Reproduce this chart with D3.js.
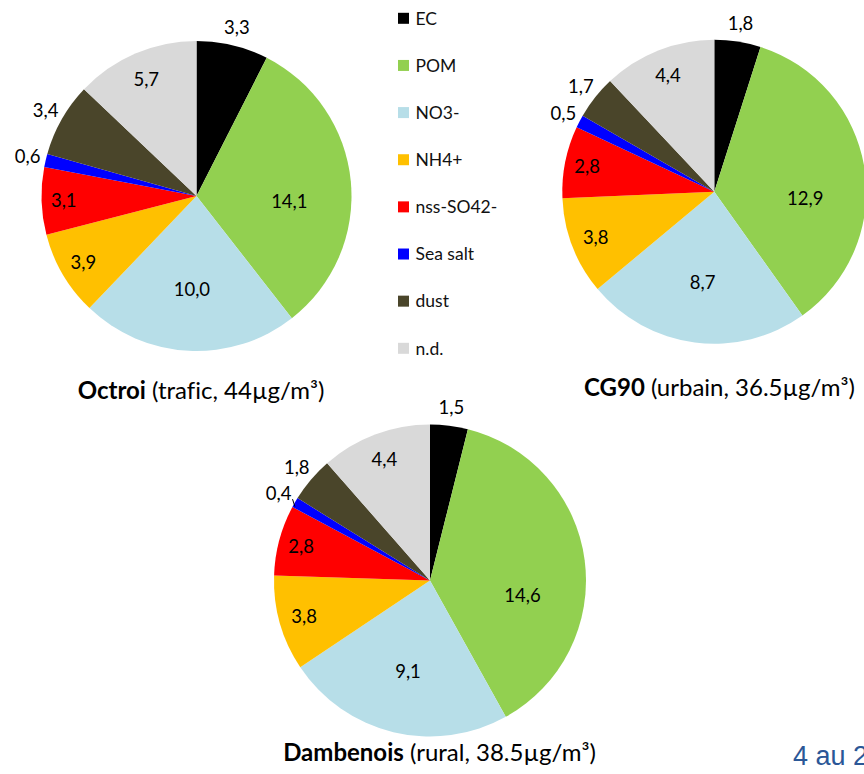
<!DOCTYPE html>
<html>
<head>
<meta charset="utf-8">
<script src="https://cdn.jsdelivr.net/npm/d3@7"></script>
<style>
  html, body { margin: 0; padding: 0; background: #fff; overflow: hidden; }
  svg { display: block; font-family: Lato, "Open Sans", sans-serif; font-variant-ligatures: none; }
</style>
</head>
<body>
<svg id="chart" width="864" height="774"></svg>
<script>
// PM10 chemical composition (µg/m³) at three sites
const categories = ["EC", "POM", "NO3-", "NH4+", "nss-SO42-", "Sea salt", "dust", "n.d."];
const octroiValues    = [3.3, 14.1, 10.0, 3.9, 3.1, 0.6, 3.4, 5.7];
const cg90Values      = [1.8, 12.9, 8.7, 3.8, 2.8, 0.5, 1.7, 4.4];
const dambenoisValues = [1.5, 14.6, 9.1, 3.8, 2.8, 0.4, 1.8, 4.4];
const siteNames   = ["Octroi", "CG90", "Dambenois"];
const siteDetails = ["(trafic, 44µg/m³)", "(urbain, 36.5µg/m³)", "(rural, 38.5µg/m³)"];

const colors = ["#000000", "#92D050", "#B7DEE8", "#FFC000", "#FF0000", "#0000FF", "#4A452A", "#D9D9D9"];
const color = d3.scaleOrdinal().domain(categories).range(colors);

// categories whose labels sit outside the pie
const outsideLabels = new Set(["EC", "Sea salt", "dust"]);

const svg = d3.select("#chart");

const layouts = [
  { values: octroiValues,    cx: 196.5, cy: 196,   r: 155, tx: 201,   ty: 399 },
  { values: cg90Values,      cx: 714.3, cy: 191.7, r: 152, tx: 719.5, ty: 395.5 },
  { values: dambenoisValues, cx: 430,   cy: 580.5, r: 156, tx: 439.5, ty: 761 }
];

const pie = d3.pie().sort(null).value(d => d.value);
const fmt = v => v.toFixed(1).replace(".", ",");

layouts.forEach((L, i) => {
  const data = categories.map((c, k) => ({ cat: c, value: L.values[k] }));
  const total = d3.sum(L.values);
  const arcs = pie(data);
  const arc = d3.arc().innerRadius(0).outerRadius(L.r);

  const g = svg.append("g").attr("transform", `translate(${L.cx},${L.cy})`);
  g.selectAll("path.slice").data(arcs).join("path")
    .attr("class", "slice")
    .attr("d", arc)
    .attr("fill", d => color(d.data.cat));

  arcs.forEach(d => {
    const span = (d.endAngle - d.startAngle) * 180 / Math.PI;
    let f, a = (d.startAngle + d.endAngle) / 2;
    const outside = outsideLabels.has(d.data.cat);
    if (outside) {
      f = 1.12;
    } else if (span > 70) {
      f = 0.6;
      a += Math.max(0, span - 90) * 0.35 * Math.PI / 180;
    } else {
      f = 0.9 - 0.0017 * span;
    }
    const x = Math.sin(a) * L.r * f, y = -Math.cos(a) * L.r * f;
    const txt = g.append("text")
      .attr("x", x).attr("y", y).attr("dy", "0.36em")
      .attr("text-anchor", "middle")
      .attr("font-size", 18.5)
      .attr("fill", "#000")
      .text(fmt(d.data.value));

    // very thin outside slices get a short leader line back to the rim
    if (outside && d.data.value / total < 0.012) {
      const w = txt.node().getComputedTextLength();
      const ea = (d.startAngle + d.endAngle) / 2;
      g.append("line")
        .attr("x1", x + w / 2 + 1).attr("y1", y + 6)
        .attr("x2", Math.sin(ea) * L.r).attr("y2", -Math.cos(ea) * L.r + 4)
        .attr("stroke", "#000").attr("stroke-width", 1);
    }
  });

  const t = svg.append("text")
    .attr("x", L.tx).attr("y", L.ty)
    .attr("text-anchor", "middle")
    .attr("font-size", 24)
    .attr("fill", "#000");
  t.append("tspan").attr("font-weight", "bold").text(siteNames[i]);
  t.append("tspan").text(" " + siteDetails[i]);
});

// legend
const legendY = d3.scalePoint().domain(categories).range([18.3, 348.3]);
const lg = svg.append("g");
const item = lg.selectAll("g").data(categories).join("g")
  .attr("transform", d => `translate(398,${legendY(d)})`);
item.append("rect")
  .attr("x", 0).attr("y", -5.5).attr("width", 11).attr("height", 11)
  .attr("fill", d => color(d));
item.append("text")
  .attr("x", 17.5).attr("dy", "0.36em")
  .attr("font-size", 17.5)
  .attr("fill", "#111")
  .text(d => d);

// page footer fragment
svg.append("text")
  .attr("x", 793).attr("y", 765)
  .attr("font-family", "Liberation Sans, Arial, sans-serif")
  .attr("font-size", 27)
  .attr("fill", "#2B5797")
  .text("4 au 2");
</script>
</body>
</html>
